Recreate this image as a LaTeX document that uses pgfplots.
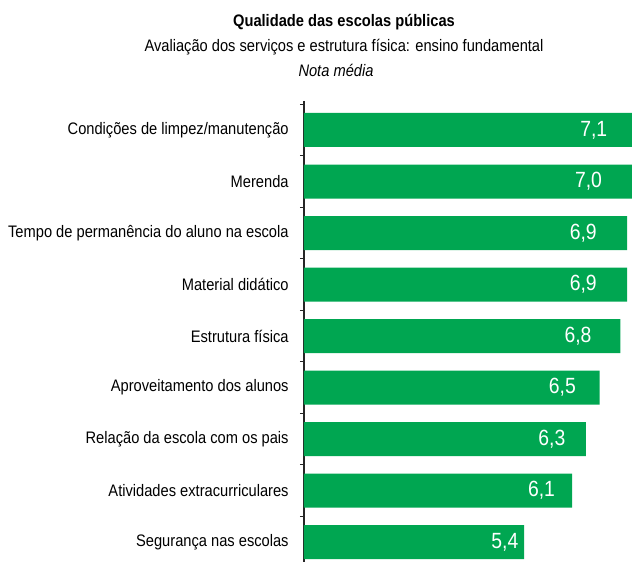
\documentclass[border=0pt]{standalone}
\usepackage{fontspec}
\setmainfont{Liberation Sans}[FakeStretch=0.88]
\usepackage{pgfplots}
\pgfplotsset{compat=1.18}
\definecolor{barGreen}{RGB}{0,166,81}

\begin{document}
\begin{tikzpicture}[x=0.75pt,y=0.75pt]
% page is 632 x 562 px, 1px = 0.75pt
\path[use as bounding box] (0,0) rectangle (632,562);
\node[font=\bfseries\fontsize{12.5}{14}\selectfont] at (344,540) {Qualidade das escolas públicas};
\node[font=\fontsize{12.5}{14}\selectfont] at (344,515) {Avaliação dos serviços e estrutura física: ensino fundamental};
\node[font=\itshape\fontsize{12.5}{14}\selectfont] at (336,492) {Nota média};

\begin{axis}[
    at={(228pt,0pt)}, anchor=south west,
    scale only axis,
    width=246pt, height=345.75pt,
    clip=false,
    xbar, bar width=25.5pt,
    xmin=2.2, xmax=6.97,
    ymin=-0.563, ymax=8.388,
    y dir=reverse,
    axis x line=none,
    axis y line*=left,
    axis line style={black!85, line width=0.8pt},
    ytick={0,...,8},
    yticklabels={Condições de limpez/manutenção, Merenda,
      Tempo de permanência do aluno na escola, Material didático,
      Estrutura física, Aproveitamento dos alunos,
      Relação da escola com os pais, Atividades extracurriculares,
      Segurança nas escolas},
    major tick length=0pt,
    minor ytick={-0.5,0.5,...,8.5},
    minor tick length=3pt,
    tick align=outside,
    minor tick style={black!85, line width=0.8pt},
    yticklabel style={font=\fontsize{12.5}{14}\selectfont, xshift=-8pt},
    visualization depends on={x \as \xval},
    nodes near coords={\pgfmathprintnumber[fixed,fixed zerofill,precision=1,use comma,assume math mode=true]{\xval}},
    every node near coord/.append style={anchor=east, text=white,
      font=\fontsize{16.5}{18}\selectfont,
      xshift={-(1+16.5*(\xval-5.4))*0.75pt}},
]
% bars run past the page's right edge for 7,0 and 7,1, as in the reference
\addplot[fill=barGreen, draw=none] coordinates {
    (7.1,0) (7.0,1) (6.9,2) (6.9,3) (6.8,4) (6.5,5) (6.3,6) (6.1,7) (5.4,8)
};
\end{axis}
\end{tikzpicture}
\end{document}
